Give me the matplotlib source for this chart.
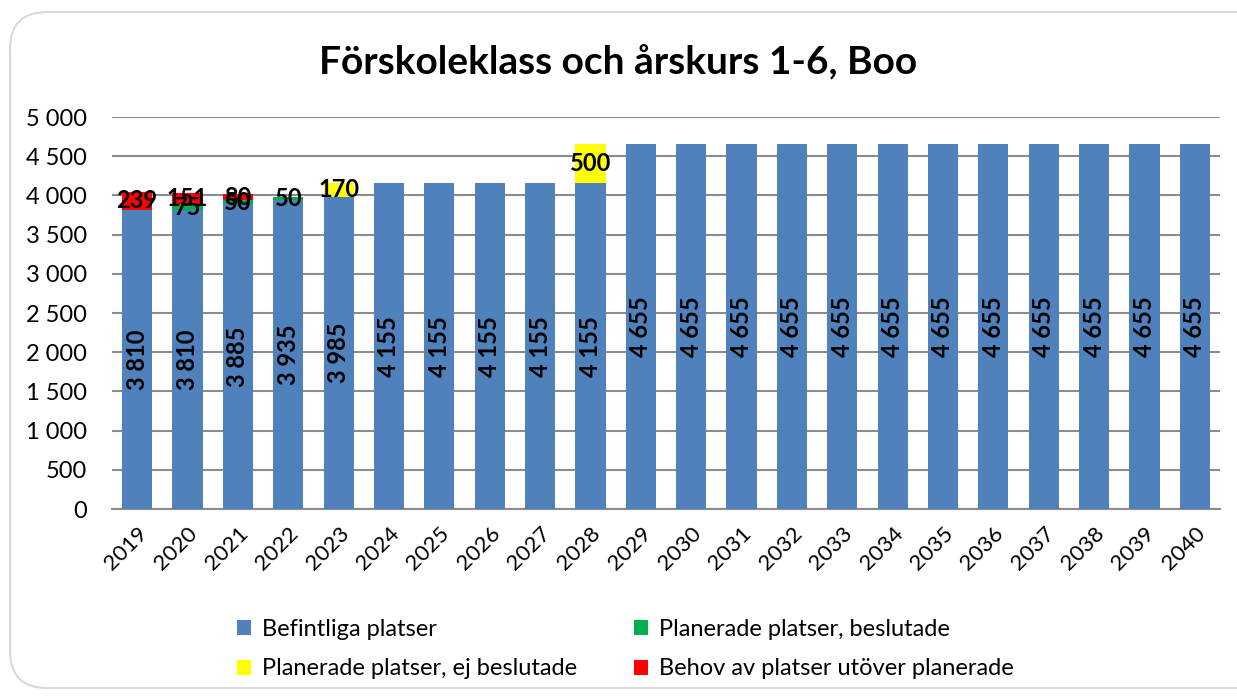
import numpy as np
import matplotlib.pyplot as plt
from matplotlib.patches import FancyBboxPatch, Patch

plt.rcParams['font.family'] = ['Lato', 'DejaVu Sans']

# -------------------------------
# Data
# -------------------------------
years = [str(y) for y in range(2019, 2041)]
befintliga = [3810, 3810, 3885, 3935, 3985] + [4155] * 5 + [4655] * 12
beslutade = [0, 75, 50, 50] + [0] * 18
ej_beslutade = [0, 0, 0, 0, 170, 0, 0, 0, 0, 500] + [0] * 12
behov = [239, 151, 80] + [0] * 19

series = [
    ("Befintliga platser", befintliga, "#4F81BD"),
    ("Planerade platser, beslutade", beslutade, "#00B050"),
    ("Planerade platser, ej beslutade", ej_beslutade, "#FFFF00"),
    ("Behov av platser utöver planerade", behov, "#FF0000"),
]

def fmt(v):
    return f"{int(v):,}".replace(",", " ")

# -------------------------------
# Plot
# -------------------------------
fig = plt.figure(figsize=(12.37, 6.98), dpi=100)
ax = fig.add_axes([112 / 1237, 1 - 509 / 698, (1220 - 112) / 1237, (509 - 117) / 698])

# rounded chart border
fig.patches.append(FancyBboxPatch((10 / 1237, 10 / 698), 1.2, 1 - 22 / 698,
                                  boxstyle="round,pad=0,rounding_size=0.03",
                                  transform=fig.transFigure, fill=False,
                                  edgecolor="#d9d9d9", linewidth=1.5,
                                  mutation_aspect=1237 / 698))

x = np.arange(len(years))
bottom = np.zeros(len(years))
handles = []
for i, (name, vals, color) in enumerate(series):
    vals = np.array(vals, dtype=float)
    ax.bar(x, vals, 0.6, bottom=bottom, color=color, zorder=3)
    for xi, v, b in zip(x, vals, bottom):
        if v <= 0:
            continue
        ax.text(xi, b + v / 2, fmt(v), rotation=90 if i == 0 else 0,
                ha="center", va="center", fontsize=17, fontweight="bold", zorder=4)
    bottom += vals
    handles.append(Patch(facecolor=color, label=name))

ax.set_xlim(-0.5, len(years) - 0.5)
ax.set_ylim(0, 5000)
ax.set_yticks(np.arange(0, 5001, 500))
ax.set_yticklabels([fmt(v) for v in np.arange(0, 5001, 500)], fontsize=17)
ax.set_xticks(x)
ax.set_xticklabels(years, rotation=45, ha="right", rotation_mode="anchor", fontsize=16)
ax.tick_params(axis="y", length=0, pad=18)
ax.tick_params(axis="x", length=0, pad=10)
ax.grid(axis="y", color="#8c8c8c", linewidth=1.5, zorder=0)
for s in ["top", "right", "left"]:
    ax.spines[s].set_visible(False)
ax.spines["bottom"].set_color("#8c8c8c")
ax.spines["bottom"].set_linewidth(1.5)

fig.text(0.5, 1 - 62 / 698, "Förskoleklass och årskurs 1-6, Boo", ha="center", va="center",
         fontsize=28, fontweight="bold")

order = [handles[0], handles[2], handles[1], handles[3]]
fig.legend(handles=order, loc="center left", bbox_to_anchor=(216 / 1237, 1 - 649 / 698),
           ncol=2, frameon=False, fontsize=17, handlelength=0.6, handleheight=0.6,
           handletextpad=0.45, columnspacing=2.4, labelspacing=0.8)

fig.savefig("out.png", dpi=100)
